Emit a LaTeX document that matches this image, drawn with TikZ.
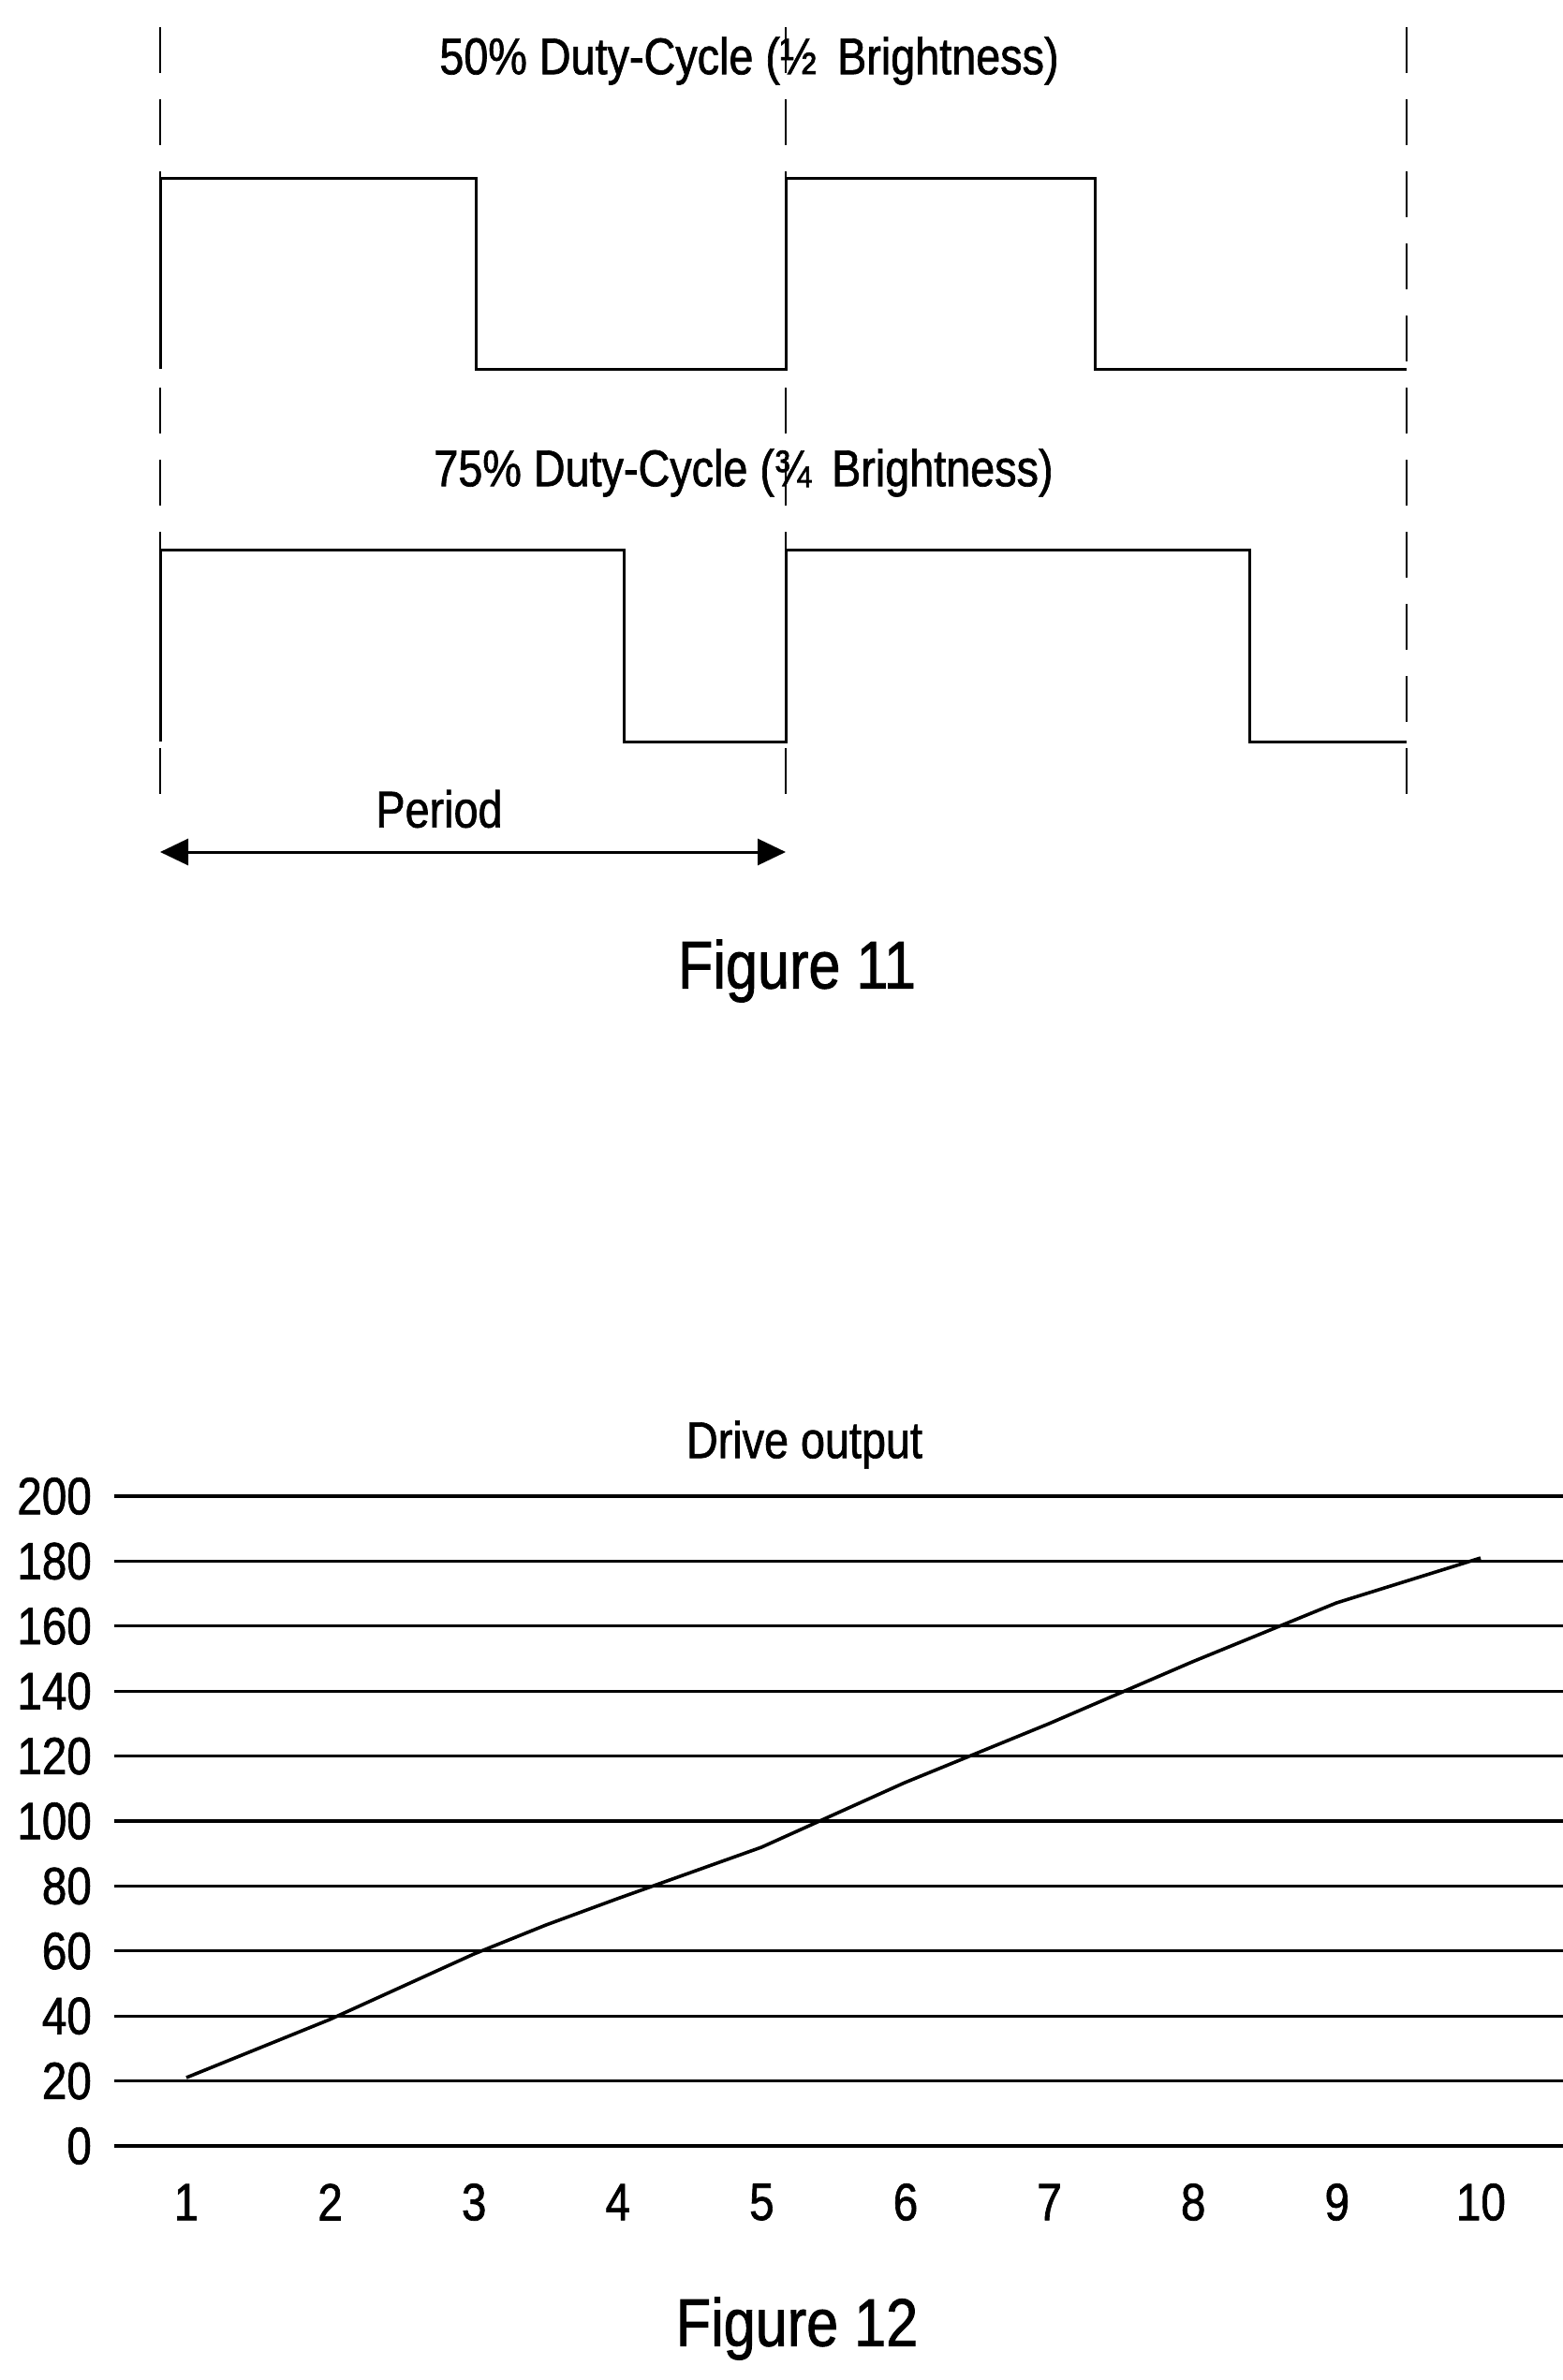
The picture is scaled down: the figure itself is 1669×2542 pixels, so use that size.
\documentclass[tikz,border=0pt]{standalone}
\usepackage{fontspec}
\setmainfont{Liberation Sans}[FakeStretch=0.85,FakeBold=1.2]
\usetikzlibrary{arrows.meta}
\begin{document}
\begin{tikzpicture}[x=1pt,y=-1pt,
  wave/.style={line width=3pt},
  dsh/.style={line width=2.4pt,dash pattern=on 49pt off 28pt},
  grid/.style={line width=3.2pt},
  lbl/.style={font=\fontsize{55}{66}\selectfont,inner sep=0},
  tick/.style={font=\fontsize{56}{66}\selectfont,inner sep=0},
  fig/.style={font=\fontsize{72}{86}\selectfont,inner sep=0}]
\useasboundingbox (0,0) rectangle (1669,2542);
\fill[white] (0,0) rectangle (1669,2542);
% dashed
\foreach \x/\n in {171/a,839/b,1502/c}{
  \coordinate (t\n) at (\x,29); \coordinate (b\n) at (\x,875);
  \draw[dsh] (t\n) -- (b\n);}
% waves
\draw[wave] (171,394) -- (171,191) -- (508,191) -- (508,394) -- (839,394) -- (839,191) -- (1169,191) -- (1169,394) -- (1502,394);
\draw[wave] (171,792) -- (171,587) -- (666,587) -- (666,792) -- (839,792) -- (839,587) -- (1334,587) -- (1334,792) -- (1502,792);
\node[lbl] (t1) at (800,65) {50\% Duty-Cycle (½\, Brightness)};
\node[lbl] (t2) at (794,505) {75\% Duty-Cycle (¾\, Brightness)};
\node[lbl] (per) at (469,864) {Period};
\coordinate (pa) at (171,910); \coordinate (pb) at (839,910);
\draw[line width=3pt,{Triangle[length=30pt,width=28pt]}-{Triangle[length=30pt,width=28pt]}] (pa) -- (pb);
\node[fig] (f11) at (851,1037) {Figure 11};
% figure 12
\node[lbl] (dt) at (859,1543) {Drive output};
\foreach \v in {0,20,...,200}{
  \pgfmathsetmacro\yy{2292-\v*3.47}
  \draw[grid] (122,\yy) -- (1669,\yy);
  \node[tick,anchor=east] at (98,\yy) {\v};}
\foreach \i in {1,...,10}{
  \pgfmathsetmacro\xx{199+(\i-1)*153.6}
  \node[tick] at (\xx,2352) {\i};}
\begin{scope}[yshift=11pt]
\draw[line width=3.6pt,line join=round]
 plot coordinates {(199,2230) (352,2168) (506,2098) (583,2067) (659,2039) (813,1984) (966,1915) (1120,1852) (1273,1786) (1427,1723) (1581,1675)};
\end{scope}
\node[fig] (f12) at (851,2487) {Figure 12};
\end{tikzpicture}
\end{document}
